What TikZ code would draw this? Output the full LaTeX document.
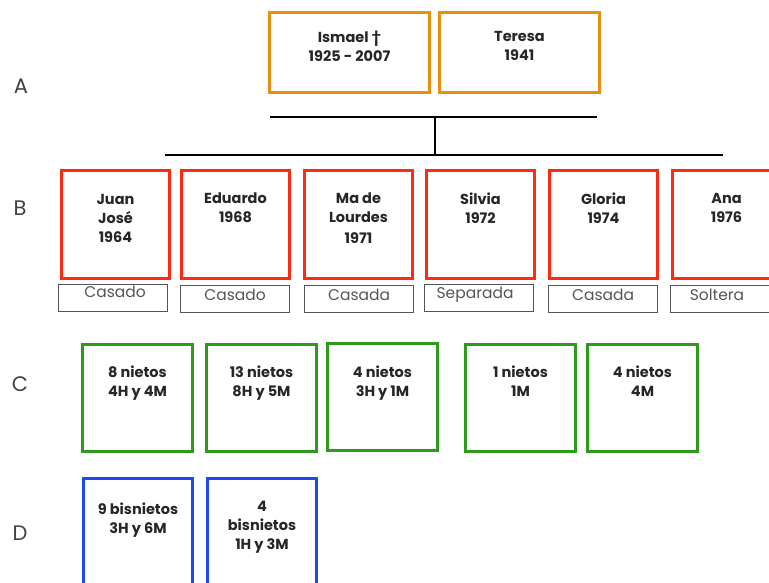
\documentclass[tikz,border=0pt]{standalone}
\usepackage{fontspec}
\setmainfont{Poppins}
\usetikzlibrary{calc}
\definecolor{orangeb}{HTML}{E8900E}
\definecolor{redb}{HTML}{FF2A12}
\definecolor{greenb}{HTML}{2E9A1C}
\definecolor{blueb}{HTML}{1E48F0}
\definecolor{statg}{HTML}{555555}
\tikzset{
  box/.style={draw, line width=3pt, fill=white, minimum width=#1, anchor=north west, inner sep=0pt},
  obox/.style={box=160pt, draw=orangeb, minimum height=80pt},
  rbox/.style={box=108pt, draw=redb, minimum height=108pt},
  gbox/.style={box=110pt, draw=greenb, minimum height=107pt},
  bbox/.style={box=109pt, draw=blueb, minimum height=120pt},
  sbox/.style={draw=statg, line width=1.1pt, minimum width=109pt, minimum height=27pt, anchor=north west, inner sep=0pt},
  lbl/.style={anchor=north, align=center, font=\fontsize{14.5}{19}\selectfont\bfseries, text=black!85, inner sep=0pt},
  slbl/.style={anchor=north, font=\fontsize{15.5}{17}\selectfont, text=statg, inner sep=0pt},
  gen/.style={font=\fontsize{21}{22}\selectfont, text=black!75, inner sep=0pt},
  conn/.style={line width=2.8pt, black}
}
\begin{document}
\begin{tikzpicture}[x=1pt,y=-1pt]
\useasboundingbox (0,0) rectangle (769,583);
% generation letters
\node[gen] (gA) at (21,86) {A};
\node[gen] (gB) at (20,208) {B};
\node[gen] (gC) at (20,384) {C};
\node[gen] (gD) at (20,533) {D};
% parents
\node[obox] (ism) at (268,11) {};
\node[obox] (ter) at (438,11) {};
\node[lbl] (ismt) at ($(ism.north)+(0,20)$) {Ismael †\\1925 - 2007};
\node[lbl] (tert) at ($(ter.north)+(0,20)$) {Teresa\\1941};
% connectors
\coordinate (c1l) at (270,117);
\coordinate (c1r) at (597,117);
\coordinate (c1m) at (435,117);
\coordinate (c2m) at (435,155);
\coordinate (c2l) at (165,155);
\coordinate (c2r) at (723,155);
\draw[conn] (c1l) -- (c1r);
\draw[conn] (c1m) -- (c2m);
\draw[conn] (c2l) -- (c2r);
% children
\node[rbox] (b1) at (60,169) {};
\node[rbox] (b2) at (180,169) {};
\node[rbox] (b3) at (303,169) {};
\node[rbox] (b4) at (425,169) {};
\node[rbox] (b5) at (548,169) {};
\node[rbox] (b6) at (671,169) {};
\node[lbl] (b1t) at ($(b1.north)+(0,25)$) {Juan\\José\\1964};
\node[lbl] (b2t) at ($(b2.north)+(0,24)$) {Eduardo\\1968};
\node[lbl] (b3t) at ($(b3.north)+(0,24)$) {Ma de\\Lourdes\\[2pt]1971};
\node[lbl] (b4t) at ($(b4.north)+(0,24)$) {Silvia\\1972};
\node[lbl] (b5t) at ($(b5.north)+(0,24)$) {Gloria\\1974};
\node[lbl] (b6t) at ($(b6.north)+(0,24)$) {Ana\\1976};
% status
\node[sbox] (s1) at (58,284) {};
\node[sbox] (s2) at (180,285) {};
\node[sbox] (s3) at (304,285) {};
\node[sbox] (s4) at (424,284) {};
\node[sbox] (s5) at (548,285) {};
\node[sbox] (s6) at (670,285) {};
\node[slbl] (s1t) at ($(s1.north)+(2,2)$) {Casado};
\node[slbl] (s2t) at ($(s2.north)+(0,4)$) {Casado};
\node[slbl] (s3t) at ($(s3.north)+(0,4)$) {Casada};
\node[slbl] (s4t) at ($(s4.north)+(-4,3)$) {Separada};
\node[slbl] (s5t) at ($(s5.north)+(0,4)$) {Casada};
\node[slbl] (s6t) at ($(s6.north)+(-8,4)$) {Soltera};
% grandchildren
\node[gbox] (g1) at (81,343) {};
\node[gbox] (g2) at (205,343) {};
\node[gbox] (g3) at (326,342) {};
\node[gbox] (g4) at (464,343) {};
\node[gbox] (g5) at (586,343) {};
\node[lbl] (g1t) at ($(g1.north)+(0,23)$) {8 nietos\\4H y 4M};
\node[lbl] (g2t) at ($(g2.north)+(0,23)$) {13 nietos\\8H y 5M};
\node[lbl] (g3t) at ($(g3.north)+(0,24)$) {4 nietos\\3H y 1M};
\node[lbl] (g4t) at ($(g4.north)+(0,23)$) {1 nietos\\1M};
\node[lbl] (g5t) at ($(g5.north)+(0,23)$) {4 nietos\\4M};
% great-grandchildren
\node[bbox] (d1) at (82,477) {};
\node[bbox] (d2) at (206,477) {};
\node[lbl] (d1t) at ($(d1.north)+(0,26)$) {9 bisnietos\\3H y 6M};
\node[lbl] (d2t) at ($(d2.north)+(0,24)$) {4\\bisnietos\\1H y 3M};
\end{tikzpicture}
\end{document}
